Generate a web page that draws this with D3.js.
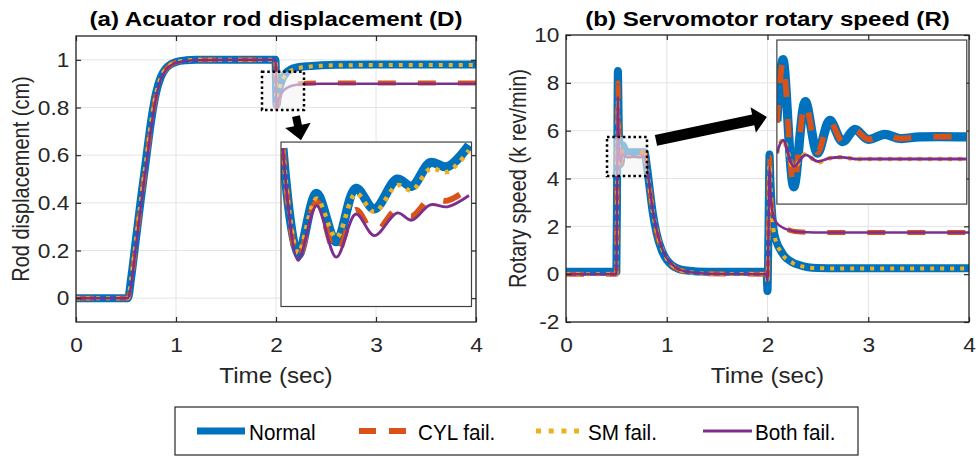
<!DOCTYPE html>
<html>
<head>
<meta charset="utf-8">
<script src="https://cdn.jsdelivr.net/npm/d3@7"></script>
<style>
  body { margin: 0; background: #fff; }
  svg { display: block; font-family: "Liberation Sans", Arial, sans-serif; }
</style>
</head>
<body>
<svg id="fig" width="980" height="456"></svg>
<script>
// ---------- data ----------
const seriesNames = ["Normal", "CYL fail.", "SM fail.", "Both fail."];
const timeTicks = [0, 1, 2, 3, 4];
const dispTicks = [0, 0.2, 0.4, 0.6, 0.8, 1];
const speedTicks = [-2, 0, 2, 4, 6, 8, 10];

// (a) rod displacement, cm
const timeD   = [0, 0.52, 0.55, 0.6, 0.65, 0.7, 0.75, 0.8, 0.85, 0.9, 0.95, 1.0, 1.1, 1.2, 1.5, 1.995, 2.005, 2.02, 2.04, 2.07, 2.1, 2.15, 2.2, 2.3, 2.45, 2.6, 3.0, 4.0];
const normalD = [0, 0, 0.08, 0.25, 0.42, 0.58, 0.74, 0.86, 0.93, 0.965, 0.982, 0.991, 0.998, 1.0, 1.0, 1.0, 0.81, 0.85, 0.89, 0.925, 0.945, 0.96, 0.967, 0.973, 0.977, 0.979, 0.98, 0.98];
const cylD    = [0, 0, 0.065, 0.235, 0.405, 0.565, 0.725, 0.85, 0.925, 0.96, 0.98, 0.989, 0.996, 0.999, 1.0, 1.0, 0.80, 0.83, 0.852, 0.872, 0.884, 0.894, 0.898, 0.902, 0.903, 0.903, 0.903, 0.903];
const smD     = [0, 0, 0.075, 0.245, 0.415, 0.575, 0.735, 0.857, 0.928, 0.963, 0.981, 0.99, 0.997, 1.0, 1.0, 1.0, 0.81, 0.848, 0.886, 0.92, 0.94, 0.955, 0.963, 0.97, 0.975, 0.977, 0.978, 0.978];
const bothD   = [0, 0, 0.05, 0.22, 0.39, 0.55, 0.71, 0.84, 0.92, 0.957, 0.977, 0.987, 0.995, 0.998, 1.0, 1.0, 0.79, 0.825, 0.848, 0.868, 0.88, 0.89, 0.895, 0.899, 0.9, 0.9, 0.9, 0.9];

// (a) close-up after the load change at t = 2 s
const insetTimeD   = [2.003, 2.027, 2.056, 2.087, 2.118, 2.147, 2.183, 2.206, 2.235, 2.262, 2.296];
const insetNormalD = [0.954, 0.850, 0.910, 0.863, 0.915, 0.895, 0.924, 0.917, 0.940, 0.936, 0.957];
const insetCylD    = [0.954, 0.846, 0.902, 0.851, 0.894, 0.872, 0.895, 0.888, 0.905, 0.903, 0.915];
const insetSmD     = [0.952, 0.852, 0.905, 0.867, 0.910, 0.892, 0.918, 0.913, 0.934, 0.931, 0.952];
const insetBothD   = [0.954, 0.845, 0.898, 0.848, 0.890, 0.869, 0.891, 0.884, 0.899, 0.897, 0.908];

// (b) servomotor rotary speed, k rev/min
const timeR   = [0, 0.5, 0.508, 0.515, 0.525, 0.54, 0.56, 0.6, 0.7, 0.78, 0.8, 0.83, 0.86, 0.9, 0.95, 1.0, 1.05, 1.1, 1.2, 1.4, 1.99, 2.0, 2.01, 2.02, 2.03, 2.04, 2.06, 2.09, 2.13, 2.16, 2.2, 2.25, 2.3, 2.4, 2.5, 2.7, 3.0, 4.0];
const normalR = [0.1, 0.1, 4.5, 8.5, 5.9, 4.6, 5.4, 5.1, 5.1, 5.1, 4.6, 3.6, 2.6, 1.7, 1.0, 0.6, 0.38, 0.25, 0.15, 0.1, 0.1, -0.7, 2.0, 5.0, 3.8, 2.9, 1.9, 1.35, 1.0, 0.8, 0.62, 0.49, 0.4, 0.29, 0.26, 0.25, 0.25, 0.25];
const cylR    = [0, 0, 4.2, 8.0, 5.8, 4.6, 5.3, 5.1, 5.1, 5.1, 4.6, 3.6, 2.6, 1.75, 1.05, 0.62, 0.38, 0.22, 0.1, 0.02, 0, -0.5, 2.0, 4.9, 3.5, 2.9, 2.38, 2.15, 2.0, 1.93, 1.86, 1.8, 1.77, 1.75, 1.74, 1.74, 1.74, 1.74];
const smR     = [0, 0, 4.0, 7.3, 5.2, 4.7, 5.0, 4.9, 4.9, 4.9, 4.5, 3.6, 2.65, 1.8, 1.1, 0.65, 0.4, 0.24, 0.1, 0.02, 0, -0.4, 1.8, 4.6, 3.7, 2.8, 1.85, 1.3, 0.95, 0.75, 0.6, 0.47, 0.38, 0.28, 0.25, 0.24, 0.24, 0.24];
const bothR   = [0, 0, 4.0, 7.4, 5.2, 4.7, 5.0, 4.9, 4.9, 4.9, 4.5, 3.65, 2.7, 1.85, 1.12, 0.68, 0.42, 0.25, 0.1, 0.02, 0, -0.3, 1.8, 4.5, 3.5, 2.9, 2.38, 2.15, 2.0, 1.93, 1.86, 1.8, 1.77, 1.75, 1.74, 1.74, 1.74, 1.74];

// (b) close-up of the start-up plateau
const insetTimeR   = [0.52, 0.529, 0.545, 0.562, 0.58, 0.598, 0.617, 0.635, 0.654, 0.679, 0.701, 0.731, 0.8];
const insetNormalR = [5.31, 6.06, 4.51, 5.55, 4.92, 5.32, 5.06, 5.21, 5.09, 5.15, 5.10, 5.12, 5.12];
const insetCylR    = [5.29, 6.04, 4.53, 5.53, 4.93, 5.31, 5.06, 5.20, 5.09, 5.14, 5.10, 5.12, 5.12];
const insetSmR     = [4.92, 5.09, 4.75, 4.91, 4.81, 4.86, 4.87, 4.85, 4.85, 4.85, 4.85, 4.85, 4.85];
const insetBothR   = [4.92, 5.08, 4.76, 4.90, 4.82, 4.86, 4.87, 4.85, 4.85, 4.85, 4.85, 4.85, 4.85];

// ---------- styles ----------
const lineStyle = {
  "Normal":     { color: "#0072BD", width: 8,   dash: null },
  "CYL fail.":  { color: "#D95319", width: 5,   dash: "18,22" },
  "SM fail.":   { color: "#EDB120", width: 4,   dash: "4,6" },
  "Both fail.": { color: "#7E2F8E", width: 2.5, dash: null }
};
const axisColor = "#262626";
const gridColor = "#e4e4e4";

const svg = d3.select("#fig");
svg.append("rect").attr("width", 980).attr("height", 456).attr("fill", "#fff");
const defs = svg.append("defs");
let clipCount = 0;

function addClip(x, y, w, h) {
  const id = "clip" + (clipCount++);
  defs.append("clipPath").attr("id", id)
    .append("rect").attr("x", x).attr("y", y).attr("width", w).attr("height", h);
  return "url(#" + id + ")";
}

// text with a horizontal stretch factor
function label(parent, x, y, str, o) {
  const sx = o.sx || 1;
  let tf = `translate(${x},${y}) scale(${sx},1)`;
  if (o.rotate) tf += ` rotate(${o.rotate})`;
  return parent.append("text")
    .attr("transform", tf)
    .attr("text-anchor", o.anchor || "middle")
    .attr("font-size", o.size)
    .attr("font-weight", o.bold ? "bold" : "normal")
    .attr("fill", o.fill || axisColor)
    .text(str);
}

function drawSeries(g, x, y, time, valuesBySeries, curve, widthScale) {
  const line = d3.line().x((d, i) => x(time[i])).y(d => y(d)).curve(curve);
  seriesNames.forEach((name, k) => {
    const s = lineStyle[name];
    g.append("path")
      .datum(valuesBySeries[k])
      .attr("d", line)
      .attr("fill", "none")
      .attr("stroke", s.color)
      .attr("stroke-width", s.width * (widthScale || 1))
      .attr("stroke-dasharray", s.dash)
      .attr("stroke-linejoin", "round")
      .attr("stroke-linecap", "butt");
  });
}

// plain ASCII tick text (hyphen-minus for negatives)
const plainFormat = d => String(d);

function drawPanel(cfg) {
  const g = svg.append("g");
  const x = d3.scaleLinear().domain([0, 4]).range([cfg.left, cfg.right]);
  const y = d3.scaleLinear().domain(cfg.yDomain).range([cfg.bottom, cfg.top]);
  const w = cfg.right - cfg.left, h = cfg.bottom - cfg.top;

  // grid
  const grid = g.append("g").attr("stroke", gridColor).attr("stroke-width", 1);
  timeTicks.forEach(t => grid.append("line")
    .attr("x1", x(t)).attr("x2", x(t)).attr("y1", cfg.top).attr("y2", cfg.bottom));
  cfg.yTicks.forEach(v => grid.append("line")
    .attr("x1", cfg.left).attr("x2", cfg.right).attr("y1", y(v)).attr("y2", y(v)));

  // curves
  const lines = g.append("g").attr("clip-path", addClip(cfg.left, cfg.top, w, h));
  drawSeries(lines, x, y, cfg.time, cfg.series, d3.curveMonotoneX, 1);

  // axes (ticks point inward on all four sides)
  const bottom = g.append("g").attr("transform", `translate(0,${cfg.bottom})`)
    .call(d3.axisBottom(x).tickValues(timeTicks).tickFormat(plainFormat)
      .tickSizeInner(-5).tickSizeOuter(0).tickPadding(15));
  const leftAx = g.append("g").attr("transform", `translate(${cfg.left},0)`)
    .call(d3.axisLeft(y).tickValues(cfg.yTicks).tickFormat(plainFormat)
      .tickSizeInner(-5).tickSizeOuter(0).tickPadding(8));
  g.append("g").attr("transform", `translate(0,${cfg.top})`)
    .call(d3.axisTop(x).tickValues(timeTicks).tickFormat("").tickSizeInner(-5).tickSizeOuter(0));
  g.append("g").attr("transform", `translate(${cfg.right},0)`)
    .call(d3.axisRight(y).tickValues(cfg.yTicks).tickFormat("").tickSizeInner(-5).tickSizeOuter(0));
  g.selectAll(".domain").remove();
  g.selectAll(".tick line").attr("stroke", axisColor).attr("stroke-width", 1.2);
  [bottom, leftAx].forEach(a => a.selectAll("text")
    .attr("font-size", 21).attr("fill", axisColor)
    .attr("font-family", '"Liberation Sans", Arial, sans-serif'));
  bottom.selectAll("text").attr("transform", "scale(1.08,1)");
  leftAx.selectAll("text").attr("transform", "translate(2,0) scale(1.08,1)");

  g.append("rect").attr("x", cfg.left).attr("y", cfg.top).attr("width", w).attr("height", h)
    .attr("fill", "none").attr("stroke", axisColor).attr("stroke-width", 1.3);

  // titles and axis labels
  label(g, (cfg.left + cfg.right) / 2, 26, cfg.title, { size: 21, bold: true, sx: 1.15, fill: "#000" });
  label(g, (cfg.left + cfg.right) / 2, 383, "Time (sec)", { size: 22, sx: 1.1 });
  label(g, cfg.yLabelX, (cfg.top + cfg.bottom) / 2, cfg.yLabel, { size: 20, sx: 1.2, rotate: -90 });

  return { g, x, y };
}

// faded, dotted selection box
function zoomBox(p, x0, x1, y0, y1) {
  p.g.append("rect")
    .attr("x", p.x(x0)).attr("y", p.y(y1))
    .attr("width", p.x(x1) - p.x(x0)).attr("height", p.y(y0) - p.y(y1))
    .attr("fill", "#f4f4f4").attr("fill-opacity", 0.6)
    .attr("stroke", "#000").attr("stroke-width", 2.5).attr("stroke-dasharray", "2.5,2.8");
}

// block arrow between two data points
function arrow(p, from, to, shaftW, headL, headW) {
  const x0 = p.x(from[0]), y0 = p.y(from[1]), x1 = p.x(to[0]), y1 = p.y(to[1]);
  const len = Math.hypot(x1 - x0, y1 - y0);
  const ux = (x1 - x0) / len, uy = (y1 - y0) / len, nx = -uy, ny = ux;
  const bx = x1 - ux * headL, by = y1 - uy * headL;
  const pts = [
    [x0 + nx * shaftW / 2, y0 + ny * shaftW / 2],
    [bx + nx * shaftW / 2, by + ny * shaftW / 2],
    [bx + nx * headW / 2, by + ny * headW / 2],
    [x1, y1],
    [bx - nx * headW / 2, by - ny * headW / 2],
    [bx - nx * shaftW / 2, by - ny * shaftW / 2],
    [x0 - nx * shaftW / 2, y0 - ny * shaftW / 2]
  ];
  p.g.append("polygon").attr("points", pts.map(q => q.join(",")).join(" ")).attr("fill", "#000");
}

// magnified view placed inside a panel
function inset(p, box, xDom, yDom, time, series) {
  const L = p.x(box.x0), R = p.x(box.x1), T = p.y(box.y1), B = p.y(box.y0);
  const x = d3.scaleLinear().domain(xDom).range([L, R]);
  const y = d3.scaleLinear().domain(yDom).range([B, T]);
  const g = p.g.append("g");
  g.append("rect").attr("x", L).attr("y", T).attr("width", R - L).attr("height", B - T).attr("fill", "#fff");
  const lines = g.append("g").attr("clip-path", addClip(L, T, R - L, B - T));
  drawSeries(lines, x, y, time, series, d3.curveCatmullRom.alpha(0.5), 1.15);
  g.append("rect").attr("x", L).attr("y", T).attr("width", R - L).attr("height", B - T)
    .attr("fill", "none").attr("stroke", "#404040").attr("stroke-width", 1.2);
}

// ---------- panel (a) ----------
const pa = drawPanel({
  left: 76, right: 476, top: 36, bottom: 322,
  yDomain: [-0.1, 1.1], yTicks: dispTicks,
  title: "(a) Acuator rod displacement (D)", yLabel: "Rod displacement (cm)", yLabelX: 29,
  time: timeD, series: [normalD, cylD, smD, bothD]
});
zoomBox(pa, 1.86, 2.28, 0.79, 0.95);
arrow(pa, [2.20, 0.764], [2.25, 0.663], 8, 15, 26);
inset(pa, { x0: 2.05, x1: 3.955, y0: -0.035, y1: 0.655 }, [2.0, 2.3], [0.80, 0.96],
  insetTimeD, [insetNormalD, insetCylD, insetSmD, insetBothD]);

// ---------- panel (b) ----------
const pb = drawPanel({
  left: 566, right: 969, top: 35, bottom: 322,
  yDomain: [-2, 10], yTicks: speedTicks,
  title: "(b) Servomotor rotary speed (R)", yLabel: "Rotary speed (k rev/min)", yLabelX: 526,
  time: timeR, series: [normalR, cylR, smR, bothR]
});
zoomBox(pb, 0.407, 0.804, 4.1, 5.73);
arrow(pb, [0.893, 5.59], [1.994, 6.57], 11, 14, 26);
inset(pb, { x0: 2.093, x1: 3.978, y0: 2.93, y1: 9.79 }, [0.52, 0.80], [4.3, 6.3],
  insetTimeR, [insetNormalR, insetCylR, insetSmR, insetBothR]);

// ---------- legend ----------
const lg = svg.append("g");
lg.append("rect").attr("x", 175).attr("y", 407).attr("width", 683).attr("height", 48)
  .attr("fill", "#fff").attr("stroke", axisColor).attr("stroke-width", 1.2);
const legendItems = [
  { name: "Normal",     x0: 197, x1: 245, tx: 249, w: 7, dash: null },
  { name: "CYL fail.",  x0: 359, x1: 406, tx: 418, w: 6, dash: "17,13" },
  { name: "SM fail.",   x0: 536, x1: 579, tx: 588, w: 5, dash: "5,7.7" },
  { name: "Both fail.", x0: 703, x1: 752, tx: 755, w: 3, dash: null }
];
legendItems.forEach(it => {
  lg.append("line").attr("x1", it.x0).attr("x2", it.x1).attr("y1", 431).attr("y2", 431)
    .attr("stroke", lineStyle[it.name].color).attr("stroke-width", it.w)
    .attr("stroke-dasharray", it.dash);
  label(lg, it.tx, 440, it.name, { size: 22, sx: 0.94, anchor: "start", fill: "#000" });
});
</script>
</body>
</html>
